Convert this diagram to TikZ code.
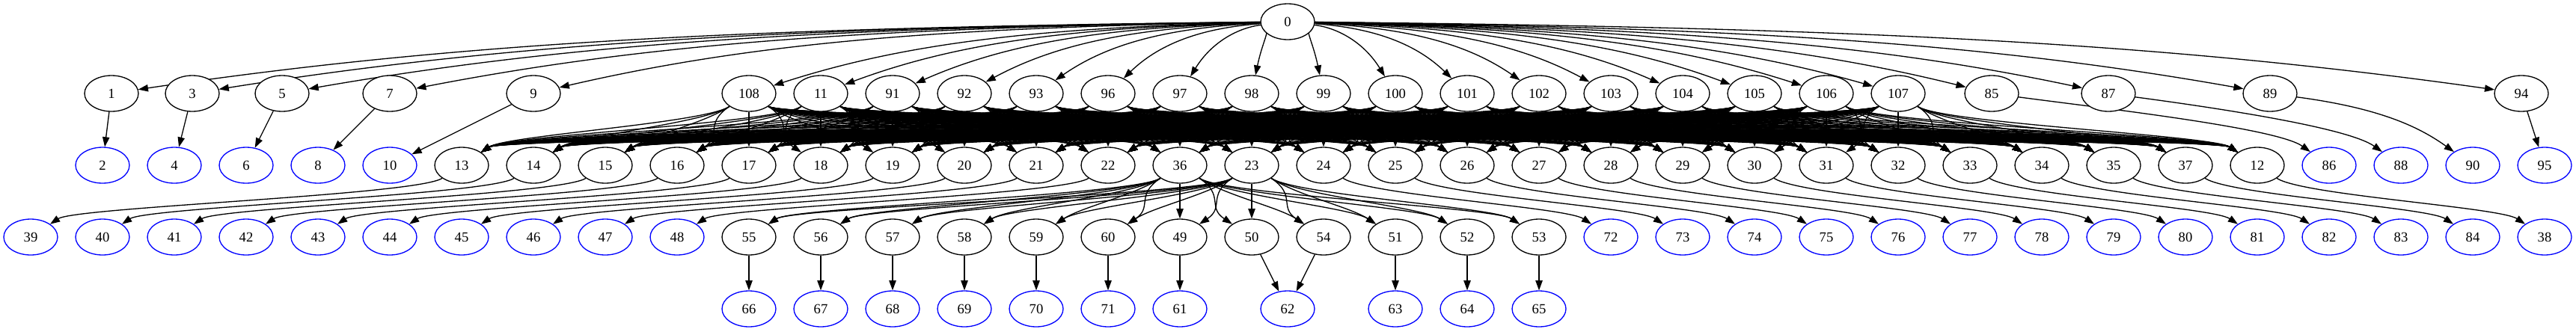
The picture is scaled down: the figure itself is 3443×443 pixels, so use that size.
\documentclass[tikz,border=0pt]{standalone}
\usepackage{fontspec}
\setmainfont{Liberation Serif}
\usetikzlibrary{arrows.meta,shapes.geometric,backgrounds}
\definecolor{dotblue}{RGB}{0,0,255}
\tikzset{
  gnode/.style={draw=#1, ellipse, fill=white, line width=0.75pt,
                font=\fontsize{10.6}{12}\selectfont, inner sep=0pt,
                minimum width=1.44cm, minimum height=0.96cm},
  gnode/.default=black,
  leaf/.style={gnode=dotblue},
  gedge/.style={line width=0.75pt, -{Triangle[length=7.5pt, width=5.3pt]}},
}
% S-shaped edge from one rank to the next: from, to, slot of from, slot of to
\newcommand{\rankedge}[4]{%
  \pgfmathsetmacro\dxa{60*sign(#4-#3)}%
  \pgfmathsetmacro\dxb{60*sign(#3-#4)}%
  \draw[gedge] (n#1) .. controls +(\dxa,40) and +(\dxb,-40) .. (n#2);}

\begin{document}
\begin{tikzpicture}[x=0.02cm, y=-0.02cm]
\useasboundingbox (0,0) rectangle (3443,443);
% Rank 0
\node[gnode] (n0) at (1721,29) {0};
% Rank 1
\foreach \n/\x in {1/149,3/257,5/377,7/521,9/713,85/2662,87/2818,89/3034,94/3370}
  \node[gnode] (n\n) at (\x,125) {\n};
\foreach \n [count=\k from 10] in {108,11,91,92,93,96,97,98,99,100,101,102,103,104,105,106,107}
  \node[gnode] (n\n) at ({41+96*\k},125) {\n};
% Rank 2
\foreach \n [count=\k from 1] in {2,4,6,8,10}
  \node[leaf] (n\n) at ({41+96*\k},221) {\n};
\foreach \n [count=\k from 6] in {13,14,15,16,17,18,19,20,21,22,36,23,24,25,26,27,28,29,30,31,32,33,34,35,37,12}
  \node[gnode] (n\n) at ({41+96*\k},221) {\n};
\foreach \n [count=\k from 32] in {86,88,90,95}
  \node[leaf] (n\n) at ({41+96*\k},221) {\n};
% Rank 3
\foreach \n [count=\k from 0] in {39,40,41,42,43,44,45,46,47,48}
  \node[leaf] (n\n) at ({41+96*\k},317) {\n};
\foreach \n [count=\k from 10] in {55,56,57,58,59,60,49,50,54,51,52,53}
  \node[gnode] (n\n) at ({41+96*\k},317) {\n};
\foreach \n [count=\k from 22] in {72,73,74,75,76,77,78,79,80,81,82,83,84,38}
  \node[leaf] (n\n) at ({41+96*\k},317) {\n};
% Rank 4
\foreach \n [count=\k from 10] in {66,67,68,69,70,71,61}
  \node[leaf] (n\n) at ({41+96*\k},413) {\n};
\node[leaf] (n62) at (1721,413) {62};
\foreach \n [count=\k from 19] in {63,64,65}
  \node[leaf] (n\n) at ({41+96*\k},413) {\n};

\begin{scope}[on background layer]
% Root to rank 1
\foreach \t/\x in {1/149,3/257,5/377,7/521,9/713,108/1001,11/1097,91/1193,92/1289,93/1385,
    96/1481,97/1577,98/1673,99/1769,100/1865,101/1961,102/2057,103/2153,104/2249,105/2345,
    106/2441,107/2537,85/2662,87/2818,89/3034,94/3370}{
  \pgfmathsetmacro\ca{0.45*(\x-1721)}
  \pgfmathsetmacro\cb{0.3*(1721-\x)}
  \draw[gedge] (n0) .. controls +(\ca,8) and +(\cb,-70) .. (n\t);
}
% Single children
\foreach \a/\b in {1/2,3/4,5/6,7/8,9/10,94/95,55/66,56/67,57/68,58/69,59/70,60/71,
    49/61,50/62,54/62,51/63,52/64,53/65}
  \draw[gedge] (n\a) -- (n\b);
\foreach \a/\b in {85/86,87/88,89/90}
  \draw[gedge] (n\a) .. controls +(150,20) and +(-70,-50) .. (n\b);
% Rank 1 to rank 2, every pair
\foreach \g [count=\kg from 10] in {108,11,91,92,93,96,97,98,99,100,101,102,103,104,105,106,107}
  \foreach \t [count=\kt from 6] in {13,14,15,16,17,18,19,20,21,22,36,23,24,25,26,27,28,29,30,31,32,33,34,35,37,12}
    {\rankedge{\g}{\t}{\kg}{\kt}}
% Rank 2 to rank 3
\foreach \a/\b/\ka/\kb in {13/39/6/0,14/40/7/1,15/41/8/2,16/42/9/3,17/43/10/4,18/44/11/5,
    19/45/12/6,20/46/13/7,21/47/14/8,22/48/15/9,24/72/18/22,25/73/19/23,26/74/20/24,
    27/75/21/25,28/76/22/26,29/77/23/27,30/78/24/28,31/79/25/29,32/80/26/30,33/81/27/31,
    34/82/28/32,35/83/29/33,37/84/30/34,12/38/31/35}
  {\rankedge{\a}{\b}{\ka}{\kb}}
\foreach \a/\ka in {36/16,23/17}
  \foreach \b/\kb in {55/10,56/11,57/12,58/13,59/14,60/15,49/16,50/17,54/18,51/19,52/20,53/21}
    {\rankedge{\a}{\b}{\ka}{\kb}}
\end{scope}
\end{tikzpicture}
\end{document}
